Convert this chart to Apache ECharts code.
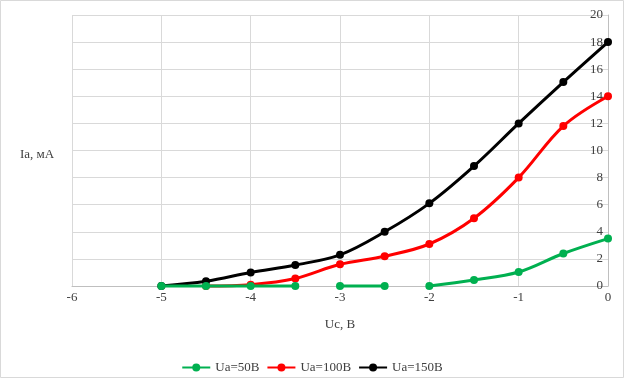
<!DOCTYPE html>
<html>
<head>
<meta charset="utf-8">
<script src="https://cdn.jsdelivr.net/npm/echarts@6/dist/echarts.min.js"></script>
<style>
  html, body { margin: 0; padding: 0; background: #fff; }
  #chart { width: 624px; height: 378px; }
</style>
</head>
<body>
<div id="chart"></div>
<script>
// grid voltage, V
const uc = [-5, -4.5, -4, -3.5, -3, -2.5, -2, -1.5, -1, -0.5, 0];
// anode current, mA (null = no measurement)
const ia50 = [0, 0, 0, 0, 0, 0, 0, 0.44, 1.03, 2.4, 3.5];
const ia100 = [null, 0, 0.1, 0.55, 1.6, 2.2, 3.1, 5.0, 8.0, 11.8, 14.0];
const ia150 = [0, 0.35, 1.0, 1.55, 2.3, 4.0, 6.1, 8.85, 12.0, 15.05, 18.0];
// the Ua=50 curve is broken after these points
const breaks50 = [-3.5, -2.5];
const seriesNames = ['Ua=50В', 'Ua=100В', 'Ua=150В'];

const font = 'Liberation Serif';

function pairs(ys, breaks) {
  const out = [];
  uc.forEach((x, i) => {
    if (ys[i] === null) return;
    out.push([x, ys[i]]);
    if (breaks && breaks.includes(x)) out.push([x, '-']);
  });
  return out;
}

function makeSeries(name, color, data, z) {
  return {
    name: name,
    type: 'line',
    data: data,
    smooth: 0.35,
    clip: false,
    symbol: 'circle',
    symbolSize: 8,
    z: z,
    lineStyle: { color: color, width: 3 },
    itemStyle: { color: color }
  };
}

const chart = echarts.init(document.getElementById('chart'));
chart.setOption({
  animation: false,
  backgroundColor: '#fff',
  grid: { left: 72, right: 16, top: 15, bottom: 92 },
  legend: {
    data: seriesNames,
    bottom: -1,
    left: 'center',
    itemWidth: 28,
    itemHeight: 10,
    itemGap: 7,
    textStyle: { fontFamily: font, fontSize: 13, color: '#404040' }
  },
  graphic: [
    {
      type: 'rect',
      shape: { x: 0.5, y: 0.5, width: 623, height: 377 },
      style: { fill: 'none', stroke: '#d9d9d9', lineWidth: 1 },
      silent: true
    },
    {
      type: 'text',
      left: 20,
      top: 148,
      style: { text: 'Ia, мА', fontFamily: font, fontSize: 13, fill: '#404040' }
    }
  ],
  xAxis: {
    type: 'value',
    min: -6,
    max: 0,
    interval: 1,
    name: 'Uc, В',
    nameLocation: 'middle',
    nameGap: 32,
    nameTextStyle: { fontFamily: font, fontSize: 13, color: '#404040' },
    axisLine: { onZero: false, lineStyle: { color: '#bfbfbf' } },
    axisTick: { show: false },
    axisLabel: { margin: 5, fontFamily: font, fontSize: 13, color: '#404040' },
    splitLine: { lineStyle: { color: '#d9d9d9' } }
  },
  yAxis: {
    type: 'value',
    position: 'right',
    min: 0,
    max: 20,
    interval: 2,
    axisLine: { show: true, lineStyle: { color: '#bfbfbf' } },
    axisTick: { show: false },
    axisLabel: { inside: true, margin: 5, fontFamily: font, fontSize: 13, color: '#404040' },
    splitLine: { lineStyle: { color: '#d9d9d9' } }
  },
  series: [
    makeSeries(seriesNames[0], '#00b050', pairs(ia50, breaks50), 4),
    makeSeries(seriesNames[1], '#ff0000', pairs(ia100), 2),
    makeSeries(seriesNames[2], '#000000', pairs(ia150), 3)
  ]
});
</script>
</body>
</html>
